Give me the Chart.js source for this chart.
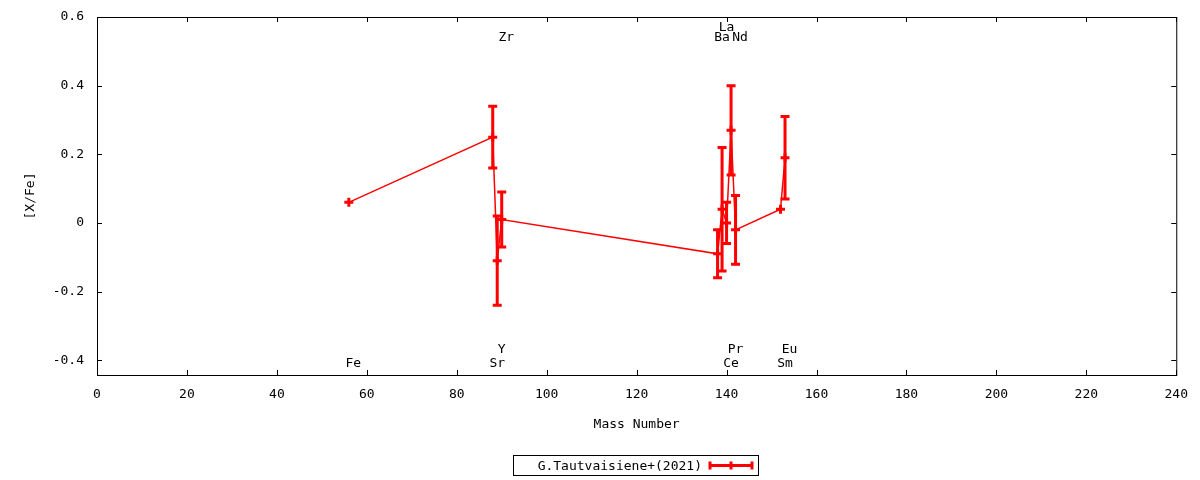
<!DOCTYPE html>
<html>
<head>
<meta charset="utf-8">
<title>[X/Fe] vs Mass Number</title>
<script src="https://cdn.jsdelivr.net/npm/chart.js@4.4.1/dist/chart.umd.min.js"></script>
<style>
    html, body { margin: 0; padding: 0; background: #fff; }
    #wrap { width: 1200px; height: 480px; position: relative; }
</style>
</head>
<body>
<div id="wrap"><canvas id="abundChart" width="1200" height="480"></canvas></div>
<script>
// Elements and their mass numbers (most abundant isotope)
const elements = ['Fe', 'Sr', 'Y', 'Zr', 'Ba', 'La', 'Ce', 'Pr', 'Nd', 'Sm', 'Eu'];
const massNumbers = [56, 88, 89, 90, 138, 139, 140, 141, 142, 152, 153];
// [X/Fe] values and their errors
const xFeValues = [0.06, 0.25, -0.11, 0.01, -0.09, 0.04, 0.00, 0.27, -0.02, 0.04, 0.19];
const xFeErrors = [0, 0.09, 0.13, 0.08, 0.07, 0.18, 0.06, 0.13, 0.10, 0, 0.12];
// where each element name sits (in data units)
const labelOffsetX = [1, 1, 1, 1, 1, 1, 1, 1, 1, 1, 1];
const labelYValues = [-0.41, -0.41, -0.37, 0.54, 0.54, 0.57, -0.41, -0.37, 0.54, -0.41, -0.37];

const xTicks = [0, 20, 40, 60, 80, 100, 120, 140, 160, 180, 200, 220, 240];
const yTicks = [-0.4, -0.2, 0, 0.2, 0.4, 0.6];

const seriesName = 'G.Tautvaisiene+(2021)';
const seriesColor = '#ff0000';
const FONT = '13px "DejaVu Sans Mono", "Liberation Mono", monospace';

// Frame with inward ticks on all four sides, like gnuplot
const framePlugin = {
    id: 'frame',
    afterDraw(chart) {
        const { ctx, chartArea: a, scales } = chart;
        ctx.save();
        ctx.strokeStyle = '#000';
        ctx.lineWidth = 1;
        ctx.strokeRect(a.left + 0.5, a.top + 0.5, a.right - a.left, a.bottom - a.top);
        ctx.beginPath();
        xTicks.forEach(v => {
            const px = Math.round(scales.x.getPixelForValue(v)) + 0.5;
            ctx.moveTo(px, a.bottom); ctx.lineTo(px, a.bottom - 5);
            ctx.moveTo(px, a.top); ctx.lineTo(px, a.top + 5);
        });
        yTicks.forEach(v => {
            const py = Math.round(scales.y.getPixelForValue(v)) + 0.5;
            ctx.moveTo(a.left, py); ctx.lineTo(a.left + 5, py);
            ctx.moveTo(a.right, py); ctx.lineTo(a.right - 5, py);
        });
        ctx.stroke();

        // axis titles
        ctx.fillStyle = '#000';
        ctx.font = FONT;
        ctx.textAlign = 'center';
        ctx.textBaseline = 'middle';
        ctx.fillText('Mass Number', (a.left + a.right) / 2, 425);
        ctx.save();
        ctx.translate(31, (a.top + a.bottom) / 2);
        ctx.rotate(-Math.PI / 2);
        ctx.fillText('[X/Fe]', 0, 0);
        ctx.restore();

        // element names
        elements.forEach((el, i) => {
            const px = scales.x.getPixelForValue(massNumbers[i] + labelOffsetX[i]);
            const py = scales.y.getPixelForValue(labelYValues[i]);
            ctx.fillText(el, px, py);
        });

        // legend box
        const bx = 513.5, by = 455.5, bw = 245, bh = 20;
        ctx.strokeRect(bx, by, bw, bh);
        ctx.textAlign = 'right';
        ctx.fillText(seriesName, 702, by + bh / 2 + 1);
        const ly = by + bh / 2;
        ctx.strokeStyle = seriesColor;
        ctx.lineWidth = 3;
        ctx.beginPath();
        ctx.moveTo(710, ly); ctx.lineTo(752, ly);
        [710, 731, 752].forEach(x => { ctx.moveTo(x, ly - 4); ctx.lineTo(x, ly + 4); });
        ctx.stroke();
        ctx.restore();
    }
};

// Vertical error bars with caps
const errorBarPlugin = {
    id: 'errorBars',
    afterDatasetsDraw(chart) {
        const { ctx, scales } = chart;
        ctx.save();
        ctx.strokeStyle = seriesColor;
        ctx.lineWidth = 3;
        ctx.beginPath();
        massNumbers.forEach((m, i) => {
            const err = xFeErrors[i];
            if (!err) return;
            const px = scales.x.getPixelForValue(m);
            const top = scales.y.getPixelForValue(xFeValues[i] + err);
            const bot = scales.y.getPixelForValue(xFeValues[i] - err);
            ctx.moveTo(px, top); ctx.lineTo(px, bot);
            ctx.moveTo(px - 4.5, top); ctx.lineTo(px + 4.5, top);
            ctx.moveTo(px - 4.5, bot); ctx.lineTo(px + 4.5, bot);
        });
        ctx.stroke();
        ctx.restore();
    }
};

function initializeChart() {
    const ctx = document.getElementById('abundChart').getContext('2d');
    return new Chart(ctx, {
        type: 'line',
        data: {
            datasets: [{
                label: seriesName,
                data: massNumbers.map((m, i) => ({ x: m, y: xFeValues[i] })),
                borderColor: seriesColor,
                backgroundColor: seriesColor,
                borderWidth: 1.5,
                pointStyle: 'cross',
                pointRadius: 4.5,
                pointBorderWidth: 3,
                pointBorderColor: seriesColor,
                tension: 0,
                fill: false
            }]
        },
        options: {
            responsive: false,
            animation: false,
            devicePixelRatio: 1,
            layout: { padding: { top: 17, right: 23, left: 0, bottom: 0 } },
            plugins: {
                legend: { display: false },
                tooltip: { enabled: false }
            },
            scales: {
                x: {
                    type: 'linear',
                    min: 0,
                    max: 240,
                    grid: { display: false, drawTicks: false },
                    border: { display: false },
                    afterBuildTicks: s => { s.ticks = xTicks.map(v => ({ value: v })); },
                    afterFit: s => { s.height = 105; },
                    ticks: {
                        color: '#000',
                        font: { family: '"DejaVu Sans Mono", monospace', size: 13 },
                        padding: 12,
                        maxRotation: 0,
                        callback: v => String(v)
                    }
                },
                y: {
                    type: 'linear',
                    min: -0.443,
                    max: 0.6,
                    grid: { display: false, drawTicks: false },
                    border: { display: false },
                    afterBuildTicks: s => { s.ticks = yTicks.map(v => ({ value: v })); },
                    afterFit: s => { s.width = 97; s.paddingTop = 0; s.paddingBottom = 0; },
                    ticks: {
                        color: '#000',
                        font: { family: '"DejaVu Sans Mono", monospace', size: 13 },
                        padding: 13,
                        callback: v => (v === 0 ? '0' : v.toFixed(1))
                    }
                }
            }
        },
        plugins: [errorBarPlugin, framePlugin]
    });
}

initializeChart();
</script>
</body>
</html>
